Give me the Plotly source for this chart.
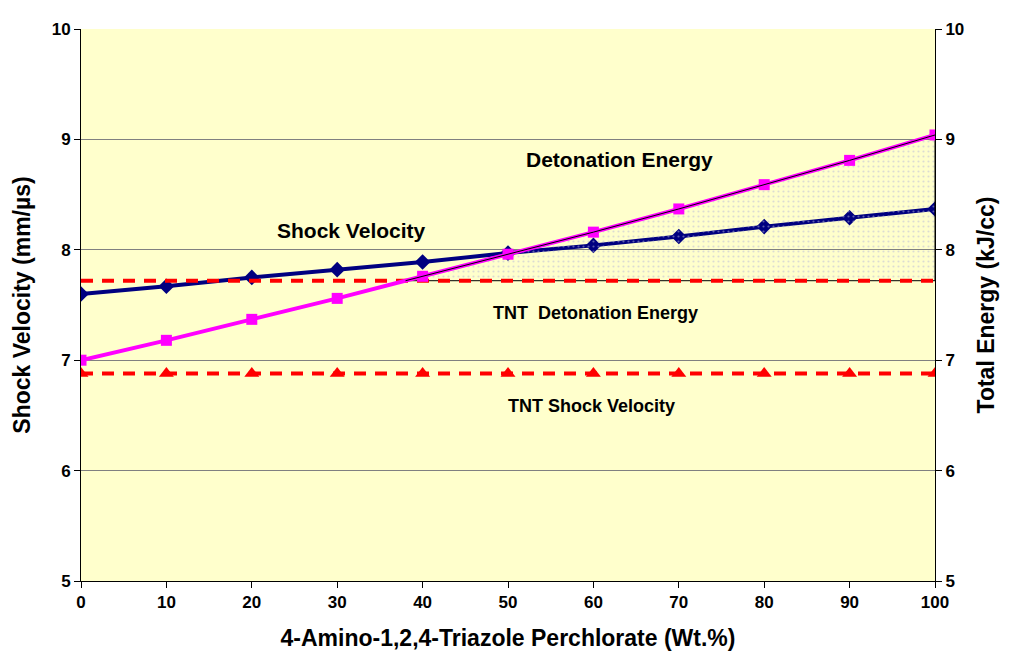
import plotly.graph_objects as go
import numpy as np

wt = [0, 10, 20, 30, 40, 50, 60, 70, 80, 90, 100]
shock_velocity = [7.60, 7.67, 7.75, 7.82, 7.89, 7.97, 8.04, 8.12, 8.21, 8.29, 8.37]
total_energy = [7.00, 7.18, 7.37, 7.56, 7.76, 7.96, 8.16, 8.37, 8.59, 8.81, 9.04]
tnt_energy = 7.72
tnt_velocity = 6.88

FONT = "Liberation Sans, Arial, sans-serif"

fig = go.Figure()

# Shaded region between energy line and TNT energy level
x_arr = np.array(wt, dtype=float)
e_arr = np.array(total_energy)
idx = np.where(e_arr > tnt_energy)[0][0]
x_cross = x_arr[idx - 1] + (tnt_energy - e_arr[idx - 1]) / (e_arr[idx] - e_arr[idx - 1]) * (x_arr[idx] - x_arr[idx - 1])
poly_x = [x_cross] + list(x_arr[idx:]) + [x_arr[-1], x_cross]
poly_y = [tnt_energy] + list(e_arr[idx:]) + [tnt_energy, tnt_energy]
fig.add_trace(go.Scatter(
    x=poly_x, y=poly_y, mode="lines", fill="toself",
    fillcolor="rgba(0,0,0,0)",
    fillpattern=dict(shape=".", fgcolor="#b8b8d8", bgcolor="rgba(0,0,0,0)", size=5, solidity=0.15),
    line=dict(color="black", width=1), hoverinfo="skip", showlegend=False, yaxis="y2"))

# TNT reference lines
fig.add_trace(go.Scatter(
    x=wt, y=[tnt_energy] * len(wt), mode="lines",
    line=dict(color="#ff0000", width=4, dash="12px,9px"), showlegend=False, yaxis="y2"))
fig.add_trace(go.Scatter(
    x=wt, y=[tnt_velocity] * len(wt), mode="lines+markers",
    line=dict(color="#ff0000", width=4, dash="12px,9px"),
    marker=dict(symbol="triangle-up", size=13, color="#ff0000"), showlegend=False))

# Shock velocity
fig.add_trace(go.Scatter(
    x=wt, y=shock_velocity, mode="lines+markers",
    line=dict(color="#000080", width=4),
    marker=dict(symbol="diamond", size=12, color="#000080"), showlegend=False))

# Total energy
fig.add_trace(go.Scatter(
    x=wt, y=total_energy, mode="lines+markers",
    line=dict(color="#ff00ff", width=4),
    marker=dict(symbol="square", size=11, color="#ff00ff"), showlegend=False, yaxis="y2"))

# Thin black line over energy line (upper part)
fig.add_trace(go.Scatter(
    x=[x_cross] + list(x_arr[idx:]), y=[tnt_energy] + list(e_arr[idx:]), mode="lines",
    line=dict(color="black", width=1), showlegend=False, yaxis="y2", hoverinfo="skip"))

tick_font = dict(family=FONT, size=17, color="black", weight="bold")
title_font = dict(family=FONT, size=23, color="black")
ann_big = dict(family=FONT, size=21, color="black")
ann_small = dict(family=FONT, size=18, color="black")

fig.update_layout(
    width=1010, height=661,
    margin=dict(l=73, r=83, t=13, b=88),
    plot_bgcolor="#ffffcc", paper_bgcolor="white",
    font=dict(family=FONT, color="black"),
    xaxis=dict(range=[0, 100], tickvals=wt, ticktext=[str(v) for v in wt],
               ticks="outside", ticklen=6, tickcolor="black", showgrid=False,
               showline=True, linecolor="black", linewidth=1,
               tickfont=tick_font, zeroline=False,
               title=dict(text="<b>4-Amino-1,2,4-Triazole Perchlorate (Wt.%)</b>", font=title_font, standoff=18)),
    yaxis=dict(range=[5, 10], dtick=1, ticks="outside", ticklen=6, tickcolor="black",
               showgrid=True, gridcolor="#808080", gridwidth=1,
               showline=True, linecolor="black", linewidth=1, zeroline=False,
               tickfont=tick_font,
               title=dict(text="<b>Shock Velocity (mm/µs)</b>", font=title_font, standoff=14)),
    yaxis2=dict(range=[5, 10], dtick=1, overlaying="y", side="right",
                ticks="outside", ticklen=6, tickcolor="black", showgrid=False,
                showline=True, linecolor="black", linewidth=1, zeroline=False,
                tickfont=tick_font,
                title=dict(text="<b>Total Energy (kJ/cc)</b>", font=title_font, standoff=14)),
    annotations=[
        dict(x=63, y=8.82, xref="x", yref="y", text="<b>Detonation Energy</b>", showarrow=False,
             font=ann_big),
        dict(x=31.7, y=8.175, xref="x", yref="y", text="<b>Shock Velocity</b>", showarrow=False,
             font=ann_big),
        dict(x=60.2, y=7.43, xref="x", yref="y", text="<b>TNT  Detonation Energy</b>", showarrow=False,
             font=ann_small),
        dict(x=59.8, y=6.585, xref="x", yref="y", text="<b>TNT Shock Velocity</b>", showarrow=False,
             font=ann_small),
    ],
)

fig.write_html("out.html")
